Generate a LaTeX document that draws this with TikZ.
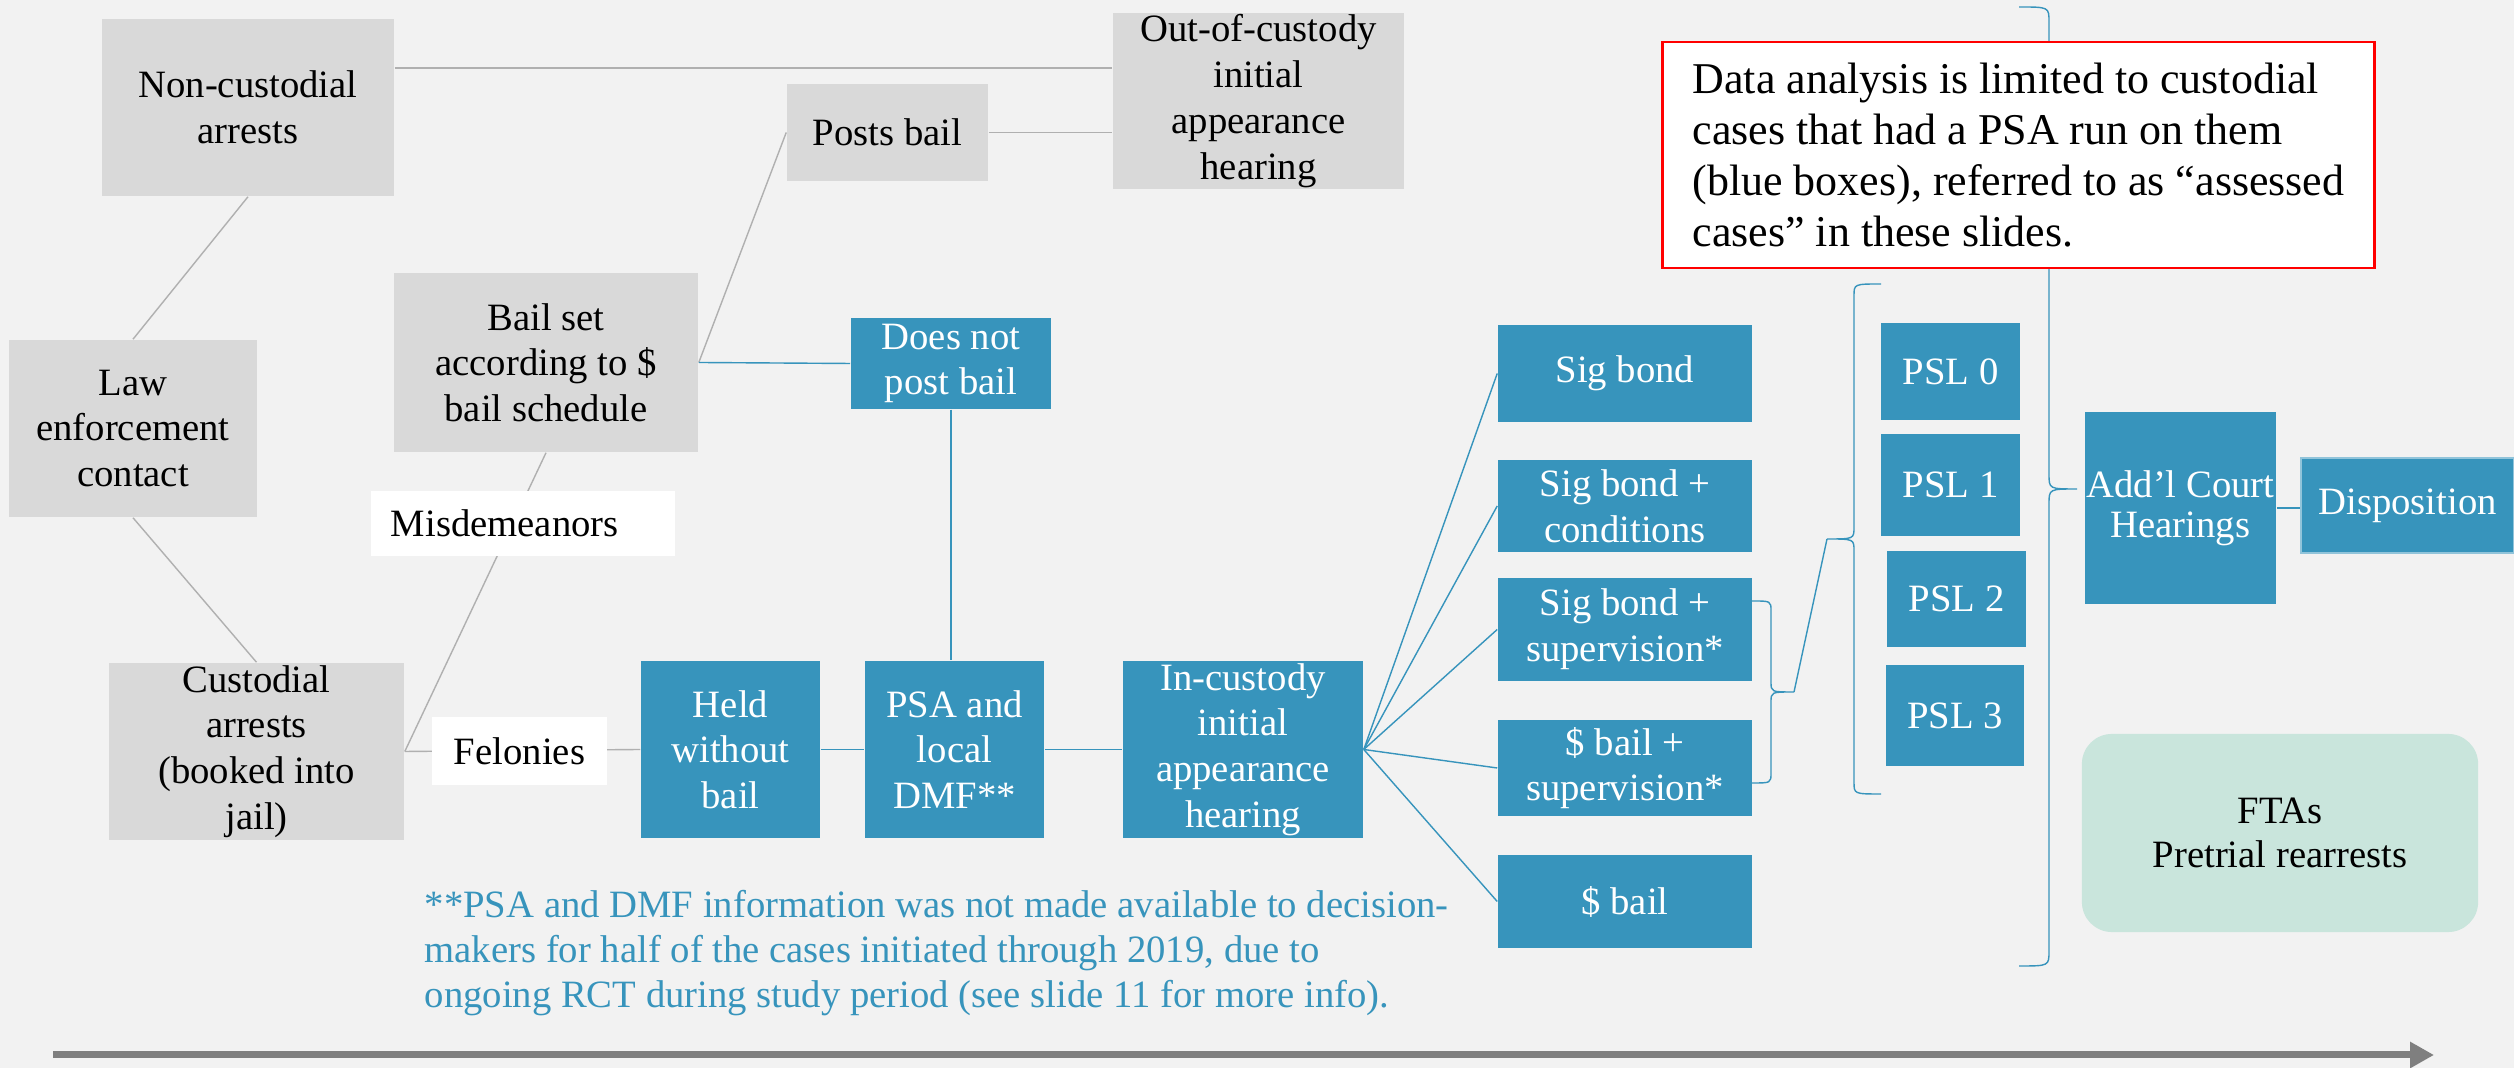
\documentclass[tikz,border=0pt]{standalone}
\usepackage{fontspec}
\setmainfont{Liberation Serif}
\usetikzlibrary{arrows.meta}

\definecolor{pagebg}{HTML}{F2F2F2}
\definecolor{boxgray}{HTML}{D9D9D9}
\definecolor{boxblue}{HTML}{3794BC}
\definecolor{linegray}{HTML}{B0B0B0}
\definecolor{arrowgray}{HTML}{7F7F7F}
\definecolor{ftagreen}{HTML}{C9E5DC}

\begin{document}
\begin{tikzpicture}[x = 0.01cm, y = -0.01cm, > = {Triangle[length = 0.24cm, width = 0.25cm]},
	graybox/.style = {fill = boxgray, inner sep = 0pt, align = center, font = \fontsize{11}{13}\selectfont},
	bluebox/.style = {fill = boxblue, text = white, inner sep = 0pt, align = center, font = \fontsize{11}{13}\selectfont},
	labelbox/.style = {fill = white, inner sep = 0pt, font = \fontsize{11}{13}\selectfont},
	grayline/.style = {linegray, thin},
	blueline/.style = {boxblue, thin}]

	% Background
	
	\fill [pagebg] (0, 0) rectangle (2514, 1068);
	\useasboundingbox (0, 0) rectangle (2514, 1068);
	
	% Arrest and bail boxes
	
	\node [graybox, minimum width = 2.92cm, minimum height = 1.77cm] (noncust) at (248, 107.5) {Non-custodial\\arrests};
	\node [graybox, minimum width = 2.91cm, minimum height = 1.76cm] (outcust) at (1258.5, 101) {Out-of-custody\\initial\\appearance\\hearing};
	\node [graybox, minimum width = 2.01cm, minimum height = 0.97cm] (posts) at (887.5, 132.5) {Posts bail};
	\node [graybox, minimum width = 3.04cm, minimum height = 1.79cm] (bailset) at (546, 362.5) {Bail set\\according to \$\\bail schedule};
	\node [bluebox, minimum width = 2.00cm, minimum height = 0.91cm] (nopost) at (951, 363.5) {Does not\\post bail};
	\node [graybox, minimum width = 2.48cm, minimum height = 1.77cm] (law) at (133, 428.5) {Law\\enforcement\\contact};
	\node [graybox, minimum width = 2.95cm, minimum height = 1.77cm] (cust) at (256.5, 751.5) {Custodial\\arrests\\(booked into\\jail)};
	
	% Custodial path
	
	\node [bluebox, minimum width = 1.79cm, minimum height = 1.77cm] (held) at (730.5, 749.5) {Held\\without\\bail};
	\node [bluebox, minimum width = 1.79cm, minimum height = 1.77cm] (psa) at (954.5, 749.5) {PSA and\\local\\DMF**};
	\node [bluebox, minimum width = 2.40cm, minimum height = 1.77cm] (incust) at (1243, 749.5) {In-custody\\initial\\appearance\\hearing};
	
	% Release conditions
	
	\node [bluebox, minimum width = 2.54cm, minimum height = 0.97cm] (sigbond) at (1625, 373.5) {Sig bond};
	\node [bluebox, minimum width = 2.54cm, minimum height = 0.92cm] (sigcond) at (1625, 506) {Sig bond +\\conditions};
	\node [bluebox, minimum width = 2.54cm, minimum height = 1.03cm] (sigsup) at (1625, 629.5) {Sig bond +\\supervision*};
	\node [bluebox, minimum width = 2.54cm, minimum height = 0.96cm] (bailsup) at (1625, 768) {\$ bail +\\supervision*};
	\node [bluebox, minimum width = 2.54cm, minimum height = 0.93cm] (bail) at (1625, 901.5) {\$ bail};
	
	% PSL levels
	
	\node [bluebox, minimum width = 1.39cm, minimum height = 0.97cm] (psl0) at (1950.5, 371.5) {PSL 0};
	\node [bluebox, minimum width = 1.39cm, minimum height = 1.02cm] (psl1) at (1950.5, 485) {PSL 1};
	\node [bluebox, minimum width = 1.39cm, minimum height = 0.96cm] (psl2) at (1956.5, 599) {PSL 2};
	\node [bluebox, minimum width = 1.38cm, minimum height = 1.01cm] (psl3) at (1955, 715.5) {PSL 3};
	
	% Later hearings and outcomes
	
	\node [bluebox, minimum width = 1.91cm, minimum height = 1.92cm, font = \fontsize{11}{11.5}\selectfont] (hearings) at (2180.5, 508) {Add’l Court\\Hearings};
	\node [bluebox, draw = boxblue!55!white, line width = 0.8pt, minimum width = 2.13cm, minimum height = 0.95cm] (dispo) at (2407.5, 505.5) {Disposition};
	\node [fill = ftagreen, rounded corners = 0.3cm, inner sep = 0pt, minimum width = 3.96cm, minimum height = 1.98cm, align = center, font = \fontsize{11}{12.5}\selectfont] (outcomes) at (2280, 833) {FTAs\\Pretrial rearrests};
	
	% Connectors
	
	\draw [grayline] (noncust.15) -- (noncust.15 -| outcust.west);
	\draw [grayline] (posts.east) -- (posts.east -| outcust.west);
	\draw [grayline] (bailset.east) -- (posts.west);
	\draw [blueline] (bailset.east) -- (nopost.west);
	\draw [blueline] (nopost.south) -- (nopost.south |- psa.north);
	\draw [grayline] (law.north) -- (noncust.south);
	\draw [grayline] (law.south) -- (cust.north);
	\draw [grayline] (cust.east) -- (bailset.south);
	\draw [grayline] (cust.east) -- (held.west);
	\draw [blueline] (held.east) -- (psa.west);
	\draw [blueline] (psa.east) -- (incust.west);
	\draw [blueline] (incust.east) -- (sigbond.west);
	\draw [blueline] (incust.east) -- (sigcond.west);
	\draw [blueline] (incust.east) -- (sigsup.west);
	\draw [blueline] (incust.east) -- (bailsup.west);
	\draw [blueline] (incust.east) -- (bail.west);
	\draw [blueline] (hearings.east) -- (hearings.east -| dispo.west);
	
	% Braces
	
	\draw [blueline] (1752, 601) .. controls (1771, 601) .. (1771, 611) -- (1771, 682) .. controls (1771, 692) .. (1794, 692) .. controls (1771, 692) .. (1771, 702) -- (1771, 773) .. controls (1771, 783) .. (1752, 783);
	\draw [blueline] (1881, 284) .. controls (1854, 284) .. (1854, 296) -- (1854, 527) .. controls (1854, 539) .. (1827, 539) .. controls (1854, 539) .. (1854, 551) -- (1854, 782) .. controls (1854, 794) .. (1881, 794);
	\draw [blueline] (2019, 7) .. controls (2049, 7) .. (2049, 22) -- (2049, 474) .. controls (2049, 489) .. (2077, 489) .. controls (2049, 489) .. (2049, 504) -- (2049, 951) .. controls (2049, 966) .. (2019, 966);
	\coordinate (suptip) at (1794, 692);
	\coordinate (psltip) at (1827, 539);
	\draw [blueline] (suptip) -- (psltip);
	
	% Labels on the lines
	
	\node [labelbox, minimum width = 3.04cm, minimum height = 0.65cm, text width = 2.64cm, align = left] (misd) at (523, 523.5) {Misdemeanors};
	\node [labelbox, minimum width = 1.75cm, minimum height = 0.68cm] (felony) at (519.5, 751) {Felonies};
	
	% Notes
	
	\node [draw = red, fill = white, line width = 0.8pt, inner sep = 0pt, minimum width = 7.11cm, minimum height = 2.26cm, align = left, font = \fontsize{12.5}{14.5}\selectfont] (scope) at (2018.5, 155) {Data analysis is limited to custodial\\cases that had a PSA run on them\\(blue boxes), referred to as “assessed\\cases” in these slides.};
	\node [anchor = north west, inner sep = 0pt, align = left, text = boxblue, font = \fontsize{11}{12.8}\selectfont] (footnote) at (424, 890) {**PSA and DMF information was not made available to decision-\\makers for half of the cases initiated through 2019, due to\\ongoing RCT during study period (see slide 11 for more info).};
	
	% Time line
	
	\coordinate (timestart) at (53, 1055);
	\coordinate (timeend) at (2434, 1055);
	\draw [arrowgray, line width = 0.07cm, ->] (timestart) -- (timeend);

\end{tikzpicture}
\end{document}
